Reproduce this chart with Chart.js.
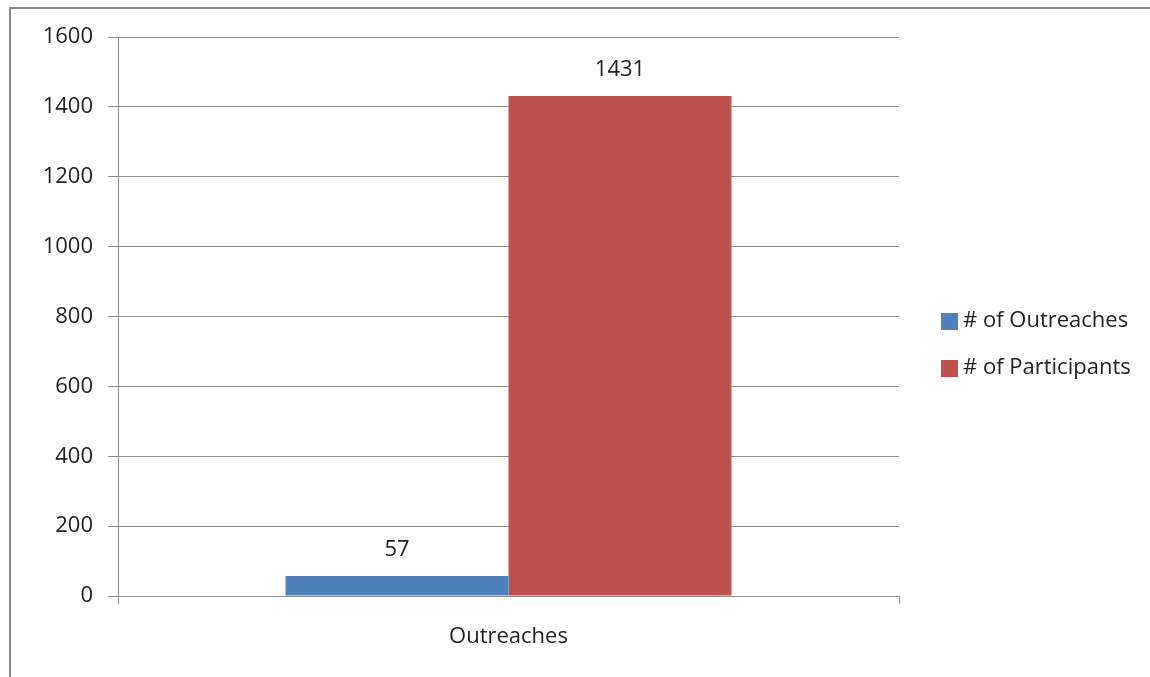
<!DOCTYPE html>
<html>
<head>
<meta charset="utf-8">
<title>Outreaches</title>
<script src="https://cdn.jsdelivr.net/npm/chart.js@4/dist/chart.umd.min.js"></script>
<style>
  html, body { margin: 0; padding: 0; background: #fff; }
  #wrap { width: 1150px; height: 677px; position: relative; }
</style>
</head>
<body>
<div id="wrap"><canvas id="chart" width="1150" height="677"></canvas></div>
<script>
const categories = ['Outreaches'];
const seriesNames = ['# of Outreaches', '# of Participants'];
const outreaches = [57];
const participants = [1431];
const yTicks = [0, 200, 400, 600, 800, 1000, 1200, 1400, 1600];

const FONT = '"Open Sans", "Liberation Sans", sans-serif';
const TEXT = '#222222';
const GRID = '#8f8f8f';

// value labels above each bar
const barLabels = {
  id: 'barLabels',
  afterDatasetsDraw(chart) {
    const ctx = chart.ctx;
    ctx.save();
    ctx.font = '22px ' + FONT;
    ctx.fillStyle = TEXT;
    ctx.textAlign = 'center';
    ctx.textBaseline = 'middle';
    chart.data.datasets.forEach((ds, i) => {
      chart.getDatasetMeta(i).data.forEach((bar, j) => {
        ctx.fillText(ds.data[j], bar.x, bar.y - 26);
      });
    });
    ctx.restore();
  }
};

// outer frame + legend on the right
const frameLegend = {
  id: 'frameLegend',
  beforeDraw(chart) {
    const ctx = chart.ctx;
    ctx.save();
    ctx.strokeStyle = '#888888';
    ctx.lineWidth = 2;
    ctx.beginPath();
    ctx.moveTo(10, 677);
    ctx.lineTo(10, 8);
    ctx.lineTo(1150, 8);
    ctx.stroke();
    ctx.restore();
  },
  afterDraw(chart) {
    const ctx = chart.ctx;
    ctx.save();
    ctx.font = '22px ' + FONT;
    ctx.textBaseline = 'middle';
    chart.data.datasets.forEach((ds, i) => {
      const y = 321 + i * 47;
      ctx.fillStyle = ds.backgroundColor;
      ctx.fillRect(941, y - 8, 17, 17);
      ctx.fillStyle = TEXT;
      ctx.fillText(ds.label, 963, y);
    });
    ctx.restore();
  }
};

new Chart(document.getElementById('chart').getContext('2d'), {
  type: 'bar',
  data: {
    labels: categories,
    datasets: [
      { label: seriesNames[0], data: outreaches, backgroundColor: '#4F81BD' },
      { label: seriesNames[1], data: participants, backgroundColor: '#C0504D' }
    ]
  },
  options: {
    responsive: false,
    animation: false,
    layout: { padding: { top: 37, right: 251, bottom: 0, left: 0 } },
    plugins: { legend: { display: false }, tooltip: { enabled: false } },
    datasets: { bar: { categoryPercentage: 0.571, barPercentage: 1 } },
    scales: {
      x: {
        grid: { offset: true, drawOnChartArea: false, drawTicks: true, tickLength: 8, color: GRID },
        border: { color: GRID },
        ticks: { color: TEXT, font: { family: FONT, size: 22 }, padding: 20 },
        afterFit(scale) { scale.height = 81; }
      },
      y: {
        min: 0,
        max: 1600,
        afterBuildTicks(scale) { scale.ticks = yTicks.map(v => ({ value: v })); },
        grid: { color: GRID, tickLength: 10 },
        border: { color: GRID },
        ticks: { color: TEXT, font: { family: FONT, size: 22 }, padding: 15, callback: v => String(v) },
        afterFit(scale) { scale.width = 118; }
      }
    }
  },
  plugins: [barLabels, frameLegend]
});
</script>
</body>
</html>
